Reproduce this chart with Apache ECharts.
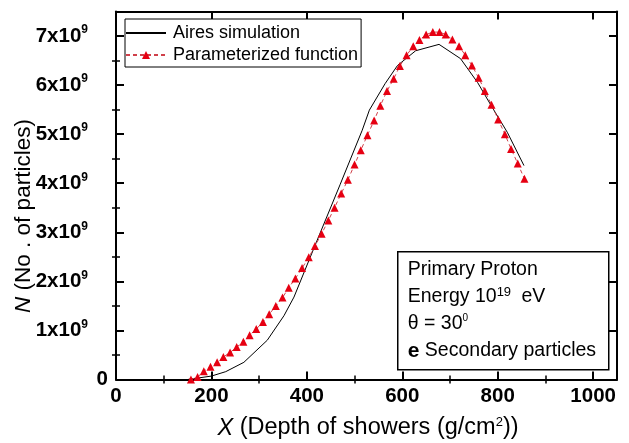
<!DOCTYPE html>
<html>
<head>
<meta charset="utf-8">
<script src="https://cdn.jsdelivr.net/npm/echarts@6/dist/echarts.min.js"></script>
<style>
html,body{margin:0;padding:0;background:#fff;}
#c{width:629px;height:443px;}
</style>
</head>
<body>
<div id="c"></div>
<script>
// ---- data (N in units of 10^9) ----
const airesX = [150, 200, 230, 268, 317, 352, 373, 420, 470, 516, 531, 564, 590, 628, 677, 722, 758, 787, 820, 855];
const airesY = [0.00, 0.07, 0.16, 0.35, 0.80, 1.30, 1.68, 2.80, 3.98, 5.08, 5.49, 6.03, 6.40, 6.70, 6.83, 6.54, 6.05, 5.57, 5.04, 4.36];

const paramX = [157, 171, 184, 198, 212, 225, 239, 253, 267, 280, 294, 308, 321, 335, 349, 362, 376, 390, 404, 417,
                431, 445, 458, 472, 486, 500, 513, 527, 541, 554, 568, 582, 595, 609, 623, 636, 650, 664, 678, 691,
                705, 719, 732, 746, 760, 773, 787, 801, 815, 828, 842, 856];
const paramY = [0.00, 0.05, 0.17, 0.26, 0.35, 0.46, 0.55, 0.66, 0.77, 0.90, 1.03, 1.17, 1.33, 1.50, 1.67, 1.87, 2.06, 2.27, 2.49, 2.72,
                2.97, 3.24, 3.50, 3.79, 4.07, 4.38, 4.67, 4.98, 5.28, 5.58, 5.88, 6.13, 6.39, 6.61, 6.79, 6.92, 7.03, 7.08, 7.08, 7.03,
                6.93, 6.79, 6.61, 6.40, 6.15, 5.88, 5.60, 5.30, 5.00, 4.70, 4.40, 4.09];

const xTicks = [0, 200, 400, 600, 800, 1000];
const xMinorTicks = [100, 300, 500, 700, 900];
const yTicks = [0, 1, 2, 3, 4, 5, 6, 7];
const yMinorTicks = [0.5, 1.5, 2.5, 3.5, 4.5, 5.5, 6.5];

const seriesNames = ['Aires simulation', 'Parameterized function'];
const xTitle = 'X';
const xTitleRest = ' (Depth of showers (g/cm';
const yTitle = 'N';
const yTitleRest = ' (No . of particles)';
const noteLines = ['Primary Proton', 'Energy 10', '19', ' eV', '\u03b8 = 30', '0', 'e', ' Secondary particles'];

// ---- chart ----
const BOLD = "'Liberation Sans',Arial,sans-serif";
const SANS = "'Liberation Sans',Arial,sans-serif";
const X_MIN = 0, X_MAX = 1050, Y_MIN = 0, Y_MAX = 7.5;

function baseAxis(extra) {
  return Object.assign({
    type: 'value',
    splitLine: { show: false },
    axisLine: { show: false },
    axisLabel: { show: false },
    axisTick: { show: false }
  }, extra);
}
function majorAxis(position, min, max, ticks, labelCfg) {
  return baseAxis({
    position: position, min: min, max: max,
    axisLine: { show: true, onZero: false, lineStyle: { color: '#000', width: 2 } },
    axisTick: { show: true, inside: true, length: 8, customValues: ticks, lineStyle: { color: '#000', width: 2 } },
    axisLabel: labelCfg ? Object.assign({ show: true, customValues: ticks }, labelCfg) : { show: false }
  });
}
function minorAxis(position, min, max, ticks) {
  return baseAxis({
    position: position, min: min, max: max,
    axisTick: { show: true, inside: true, length: 4, customValues: ticks, lineStyle: { color: '#000', width: 1.5 } }
  });
}

const chart = echarts.init(document.getElementById('c'), null, { renderer: 'canvas' });

const option = {
  backgroundColor: '#fff',
  animation: false,
  grid: { left: 116, top: 11.5, width: 501, height: 368, containLabel: false },
  legend: {
    data: [
      { name: seriesNames[0], itemStyle: { opacity: 0 } },
      { name: seriesNames[1] }
    ],
    orient: 'vertical',
    left: 125, top: 19,
    itemWidth: 40, itemHeight: 10, itemGap: 2,
    padding: [4, 3, 2, 0],
    borderColor: '#000', borderWidth: 1,
    backgroundColor: '#fff',
    textStyle: { fontFamily: SANS, fontSize: 18, color: '#000', lineHeight: 20, padding: [0, 0, 0, 2] }
  },
  xAxis: [
    majorAxis('bottom', X_MIN, X_MAX, xTicks, {
      margin: 6, color: '#000', fontFamily: BOLD, fontWeight: 'bold', fontSize: 20.5,
      formatter: function (v) { return String(v); }
    }),
    minorAxis('bottom', X_MIN, X_MAX, xMinorTicks),
    majorAxis('top', X_MIN, X_MAX, xTicks, null),
    minorAxis('top', X_MIN, X_MAX, xMinorTicks)
  ],
  yAxis: [
    majorAxis('left', Y_MIN, Y_MAX, yTicks, {
      margin: 8, color: '#000',
      formatter: function (v) {
        return v === 0 ? '{b|0}' : '{b|' + v + 'x10}{s|9}{p|}';
      },
      rich: {
        b: { fontFamily: BOLD, fontWeight: 'bold', fontSize: 20.5, color: '#000', lineHeight: 24 },
        s: { fontFamily: BOLD, fontWeight: 'bold', fontSize: 12, color: '#000', verticalAlign: 'top', lineHeight: 24 },
        p: { width: 20 }
      }
    }),
    minorAxis('left', Y_MIN, Y_MAX, yMinorTicks),
    majorAxis('right', Y_MIN, Y_MAX, yTicks, null),
    minorAxis('right', Y_MIN, Y_MAX, yMinorTicks)
  ],
  series: [
    {
      name: seriesNames[0], type: 'line', xAxisIndex: 0, yAxisIndex: 0,
      symbol: 'none',
      data: airesX.map((x, i) => [x, airesY[i]]),
      lineStyle: { color: '#000', width: 1 },
      itemStyle: { color: '#000' },
      z: 3
    },
    {
      name: seriesNames[1], type: 'line', xAxisIndex: 0, yAxisIndex: 0,
      symbol: 'triangle', symbolSize: 8,
      data: paramX.map((x, i) => [x, paramY[i]]),
      lineStyle: { color: '#d0404a', width: 1, type: [4, 3] },
      itemStyle: { color: '#e60012' },
      z: 4
    }
  ],
  graphic: [
    {
      type: 'text', x: 24, y: 216, rotation: Math.PI / 2,
      style: {
        text: '{i|' + yTitle + '}{n|' + yTitleRest + '}',
        align: 'center', verticalAlign: 'middle',
        rich: {
          i: { fontFamily: SANS, fontStyle: 'italic', fontSize: 22.5, fill: '#000' },
          n: { fontFamily: SANS, fontSize: 22.5, fill: '#000' }
        }
      }
    },
    {
      type: 'text', x: 368, y: 428,
      style: {
        text: '{i|' + xTitle + '}{n|' + xTitleRest + '}{s|2}{n|))}',
        align: 'center', verticalAlign: 'middle',
        rich: {
          i: { fontFamily: SANS, fontStyle: 'italic', fontSize: 23.5, fill: '#000', lineHeight: 24 },
          n: { fontFamily: SANS, fontSize: 23.5, fill: '#000', lineHeight: 24 },
          s: { fontFamily: SANS, fontSize: 13, fill: '#000', verticalAlign: 'top', lineHeight: 24 }
        }
      }
    },
    {
      type: 'group', left: 397, top: 251, z: 100,
      children: [
        { type: 'rect', shape: { x: 0, y: 0, width: 211, height: 118 },
          style: { fill: '#fff', stroke: '#000', lineWidth: 1.5 } },
        { type: 'text', x: 10, y: 18,
          style: { text: noteLines[0], fontFamily: SANS, fontSize: 19.5, fill: '#000', verticalAlign: 'middle' } },
        { type: 'text', x: 10, y: 45,
          style: {
            text: '{n|' + noteLines[1] + '}{s|' + noteLines[2] + '}{n|' + noteLines[3] + '}',
            verticalAlign: 'middle',
            rich: {
              n: { fontFamily: SANS, fontSize: 19.5, fill: '#000', lineHeight: 22 },
              s: { fontFamily: SANS, fontSize: 13, fill: '#000', verticalAlign: 'top', lineHeight: 22, padding: [0, 5, 0, 0] }
            }
          } },
        { type: 'text', x: 10, y: 72,
          style: {
            text: '{n|' + noteLines[4] + '}{s|' + noteLines[5] + '}',
            verticalAlign: 'middle',
            rich: {
              n: { fontFamily: SANS, fontSize: 19.5, fill: '#000', lineHeight: 22 },
              s: { fontFamily: SANS, fontSize: 10, fill: '#000', verticalAlign: 'top', lineHeight: 22 }
            }
          } },
        { type: 'text', x: 10, y: 99,
          style: {
            text: '{b|' + noteLines[6] + '}{n|' + noteLines[7] + '}',
            verticalAlign: 'middle',
            rich: {
              b: { fontFamily: SANS, fontWeight: 'bold', fontSize: 21, fill: '#000', lineHeight: 22 },
              n: { fontFamily: SANS, fontSize: 19.5, fill: '#000', lineHeight: 22 }
            }
          } }
      ]
    }
  ]
};
chart.setOption(option);
</script>
</body>
</html>
